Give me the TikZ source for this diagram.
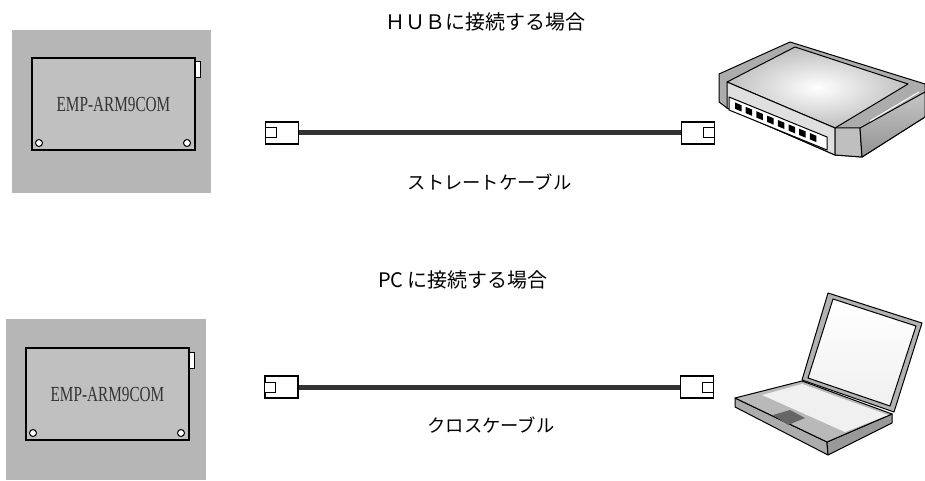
\documentclass[tikz,border=0pt]{standalone}
\usepackage{fontspec}
\usepackage{tikz}
\usetikzlibrary{positioning}

\newfontfamily\jpfont{Noto Sans CJK JP}
\newfontfamily\boardfont{Liberation Serif}
\definecolor{panelgray}{RGB}{182,182,182}
\definecolor{boardgray}{RGB}{192,192,192}
\definecolor{cablegray}{RGB}{51,51,51}

\begin{document}
\begin{tikzpicture}[x=1pt, y=-1pt,
  panel/.style = {fill = panelgray, draw = none, inner sep = 0pt},
  board/.style = {fill = boardgray, draw = black, line width = 1.4pt, inner sep = 0pt, text = cablegray, font = \boardfont\fontsize{21.5}{21.5}\selectfont},
  hole/.style = {circle, fill = white, draw = black, line width = 1pt, minimum size = 7pt, inner sep = 0pt},
  tab/.style = {fill = white, draw = black, line width = 1pt, minimum width = 5pt, minimum height = 16pt, inner sep = 0pt},
  jack/.style = {fill = white, draw = black, line width = 1.3pt, minimum width = 33pt, minimum height = 22pt, inner sep = 0pt},
  plug/.style = {fill = white, draw = black, line width = 1pt, minimum width = 11pt, minimum height = 10pt, inner sep = 0pt},
  cable/.style = {draw = cablegray, line width = 5pt},
  title/.style = {font = \jpfont\fontsize{20}{20}\selectfont, inner sep = 0pt},
  caption/.style = {font = \jpfont\fontsize{18.3}{18.3}\selectfont, inner sep = 0pt}]
\useasboundingbox (0,0) rectangle (925,481);

% upper row: board to hub
\node[panel, minimum width = 199pt, minimum height = 163pt] (panelA) at (111.5,111.5) {};
\node[board, minimum width = 163pt, minimum height = 92pt] (boardA) at (113.5,104) {\scalebox{0.71}[1]{EMP-ARM9COM}};
\node[tab] (tabA) at (197.5,70) {};
\node[hole] (holeA1) at (39,143) {};
\node[hole] (holeA2) at (187,143) {};

\node[jack] (jackA1) at (282,133) {};
\node[plug] at (jackA1.west) [anchor = west] {};
\node[jack] (jackA2) at (698,133) {};
\node[plug] at (jackA2.east) [anchor = east] {};
\draw[cable] (jackA1.east) -- (jackA2.west);

\node[title] (hubtitle) at (485,22) {ＨＵＢに接続する場合};
\node[caption] (straight) at (489.5,182) {ストレートケーブル};

% hub
\begin{scope}[line width = 1pt, line join = round]
\filldraw[fill = gray!65] (719,74) -- (790,42) -- (925,84) -- (925,117) -- (862,157) -- (835,155) -- (727,108) -- (719,102) -- cycle;
\shade[inner color = white, outer color = gray!50, draw = black] (727,82) -- (795,47) -- (908,84) -- (835,128) -- cycle;
\filldraw[fill = gray!25] (727,82) -- (835,128) -- (835,155) -- (727,108) -- cycle;
\filldraw[fill = white] (729,97) -- (827,137) -- (827,150) -- (729,110) -- cycle;
\foreach \i in {0,...,7}
  \fill ({735+10.7*\i},{102.5+4.37*\i}) -- ++(6.5,2.7) -- ++(0,6.3) -- ++(-6.5,-2.7) -- cycle;
\filldraw[fill = gray!50] (835,128) -- (860,128) -- (862,157) -- (835,155) -- cycle;
\shade[top color = gray!45, bottom color = gray!85, draw = black] (860,128) -- (925,92) -- (925,117) -- (862,157) -- cycle;
\draw[white] (870,121) -- (919,92);
\end{scope}

% lower row: board to laptop
\node[panel, minimum width = 200pt, minimum height = 161pt] (panelB) at (106,399.5) {};
\node[board, minimum width = 163pt, minimum height = 92pt] (boardB) at (107.5,394) {\scalebox{0.71}[1]{EMP-ARM9COM}};
\node[tab] (tabB) at (192,360) {};
\node[hole] (holeB1) at (33,433) {};
\node[hole] (holeB2) at (181,433) {};

\node[jack] (jackB1) at (281.5,387) {};
\node[plug] at (jackB1.west) [anchor = west] {};
\node[jack] (jackB2) at (697,387) {};
\node[plug] at (jackB2.east) [anchor = east] {};
\draw[cable] (jackB1.east) -- (jackB2.west);

\node[title] (pctitle) at (463,280) {PC に接続する場合};
\node[caption] (cross) at (491,425) {クロスケーブル};

% laptop
\begin{scope}[line width = 1pt, line join = round]
\filldraw[fill = gray!60] (828,293) -- (922,323) -- (894,412) -- (802,380) -- cycle;
\shade[top color = white, bottom color = gray!12, draw = black] (833,299) -- (916,326) -- (890,406) -- (808,378) -- cycle;
\filldraw[fill = gray!65] (735,398) -- (827,442) -- (828,455) -- (735,407) -- cycle;
\filldraw[fill = gray!80] (827,442) -- (892,414) -- (892,423) -- (828,455) -- cycle;
\filldraw[fill = gray!55] (735,398) -- (802,381) -- (892,414) -- (827,442) -- cycle;
\fill[gray!12] (762,395) -- (802,384) -- (888,415) -- (845,432) -- cycle;
\fill[gray!80!black] (773,415) -- (790,410) -- (805,418) -- (788,425) -- cycle;
\end{scope}
\end{tikzpicture}
\end{document}
